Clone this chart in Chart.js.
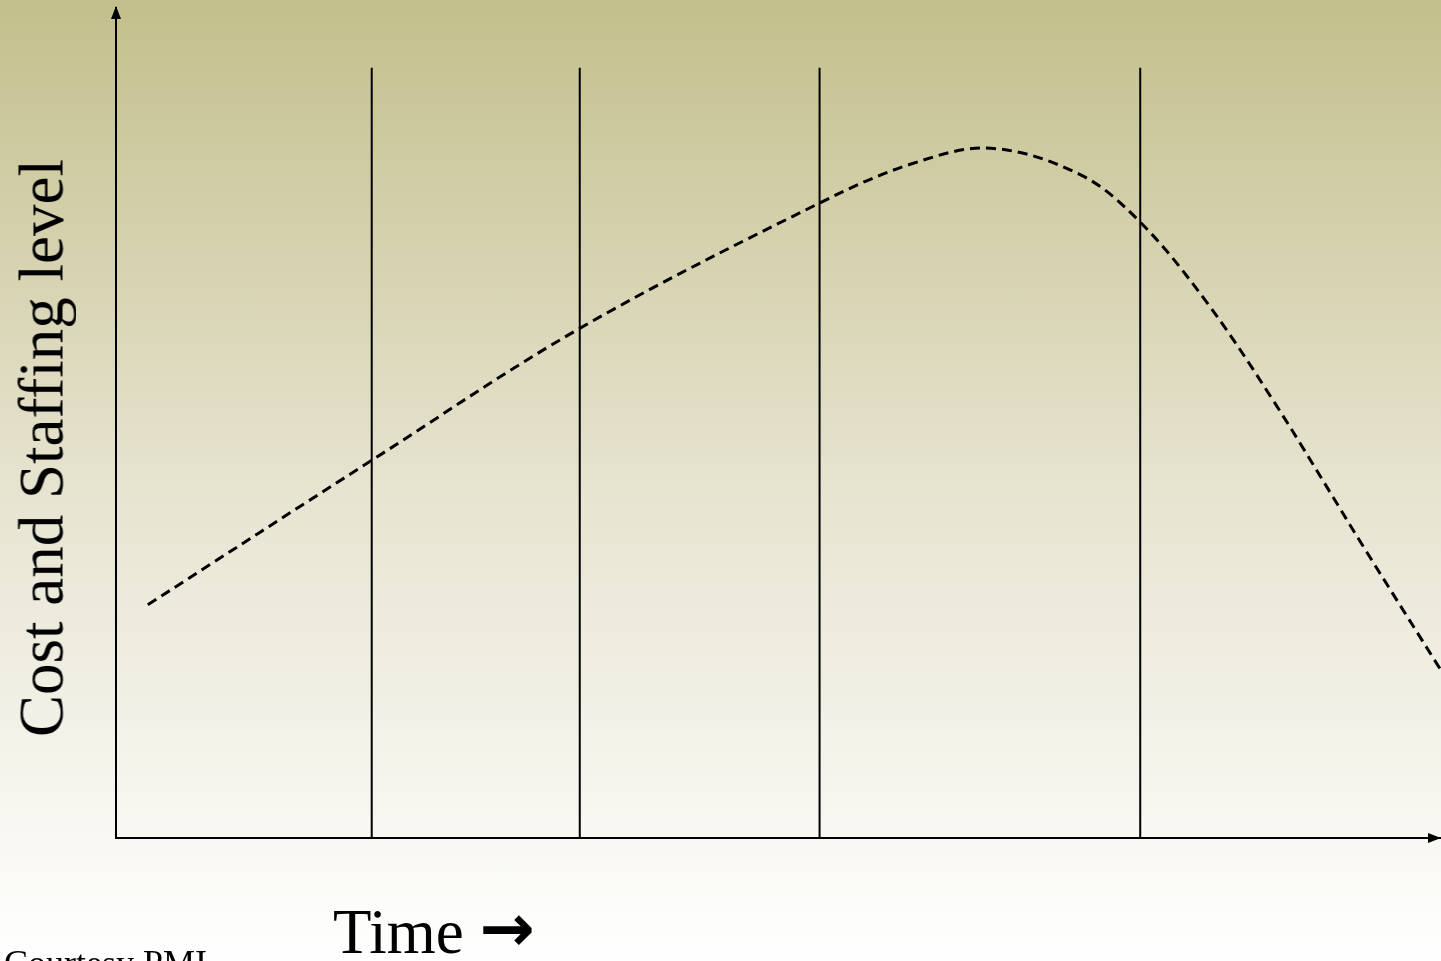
<!DOCTYPE html>
<html>
<head>
<meta charset="utf-8">
<title>Cost and Staffing level</title>
<script src="https://cdn.jsdelivr.net/npm/chart.js@4"></script>
<style>
  html, body { margin: 0; padding: 0; }
  body {
    width: 1441px; height: 961px; overflow: hidden; position: relative;
    background: linear-gradient(to bottom, #c3bf8c 0%, #e6e3cf 50%, #ffffff 100%);
    font-family: "Liberation Serif", "Times New Roman", serif;
  }
  #chart { position: absolute; left: 0; top: 0; }
  .lbl { position: absolute; color: #000; white-space: nowrap; line-height: 1; }
  #ylabel { font-size: 63px; left: 42px; top: 448px; transform: translate(-50%, -50%) rotate(-90deg); }
  #xlabel { font-size: 63px; left: 333px; top: 898px; }
  #xlabel .arr { font-family: "DejaVu Sans", sans-serif; font-weight: bold; font-size: 66px; line-height: 1; position: relative; top: -2px; }
  #credit { font-size: 36px; left: 4px; top: 945px; }
</style>
</head>
<body>
<canvas id="chart" width="1441" height="961"></canvas>
<div class="lbl" id="ylabel">Cost and Staffing level</div>
<div class="lbl" id="xlabel">Time <span class="arr">&#8594;</span></div>
<div class="lbl" id="credit">Courtesy PMI</div>
<script>
// curve (time 0-100, level 0-100)
const curveTime  = [2.4, 19.3, 35.0, 53.1, 60.0, 66.0, 72.8, 77.3, 82.2, 87.3, 94.3, 100];
const curveLevel = [28.1, 45.5, 61.4, 76.5, 81.2, 83.1, 79.9, 74.2, 64.8, 52.8, 34.7, 20.2];

// phase boundaries
const phaseLines = [19.3, 35.0, 53.1, 77.3];
const phaseTop = 92.8;

const datasets = [];

datasets.push({
    data: curveTime.map((t, i) => ({ x: t, y: curveLevel[i] })),
    borderColor: '#000',
    borderWidth: 3,
    borderDash: [10, 6],
    pointRadius: 0,
    tension: 0.35,
    fill: false
});

phaseLines.forEach(x => {
    datasets.push({
        data: [{ x: x, y: 0 }, { x: x, y: phaseTop }],
        borderColor: '#000',
        borderWidth: 2,
        pointRadius: 0,
        fill: false
    });
});

// arrow heads at the axis ends
const arrows = {
    id: 'arrows',
    afterDraw(chart) {
        const ctx = chart.ctx;
        const a = chart.chartArea;
        ctx.save();
        ctx.fillStyle = '#000';
        ctx.beginPath();
        ctx.moveTo(a.left, a.top - 2);
        ctx.lineTo(a.left - 5, a.top + 11);
        ctx.lineTo(a.left + 5, a.top + 11);
        ctx.closePath();
        ctx.fill();
        ctx.beginPath();
        ctx.moveTo(a.right, a.bottom);
        ctx.lineTo(a.right - 13, a.bottom - 5);
        ctx.lineTo(a.right - 13, a.bottom + 5);
        ctx.closePath();
        ctx.fill();
        ctx.restore();
    }
};

new Chart(document.getElementById('chart').getContext('2d'), {
    type: 'line',
    data: { datasets: datasets },
    options: {
        responsive: false,
        animation: false,
        layout: { padding: { left: 116, top: 8, right: 0, bottom: 123 } },
        plugins: { legend: { display: false }, tooltip: { enabled: false } },
        scales: {
            x: {
                type: 'linear', min: 0, max: 100,
                grid: { display: false },
                ticks: { display: false },
                border: { display: true, color: '#000', width: 2 },
                afterFit: s => { s.height = 0; }
            },
            y: {
                min: 0, max: 100,
                grid: { display: false },
                ticks: { display: false },
                border: { display: true, color: '#000', width: 2 },
                afterFit: s => { s.width = 0; }
            }
        },
        clip: false
    },
    plugins: [arrows]
});
</script>
</body>
</html>
